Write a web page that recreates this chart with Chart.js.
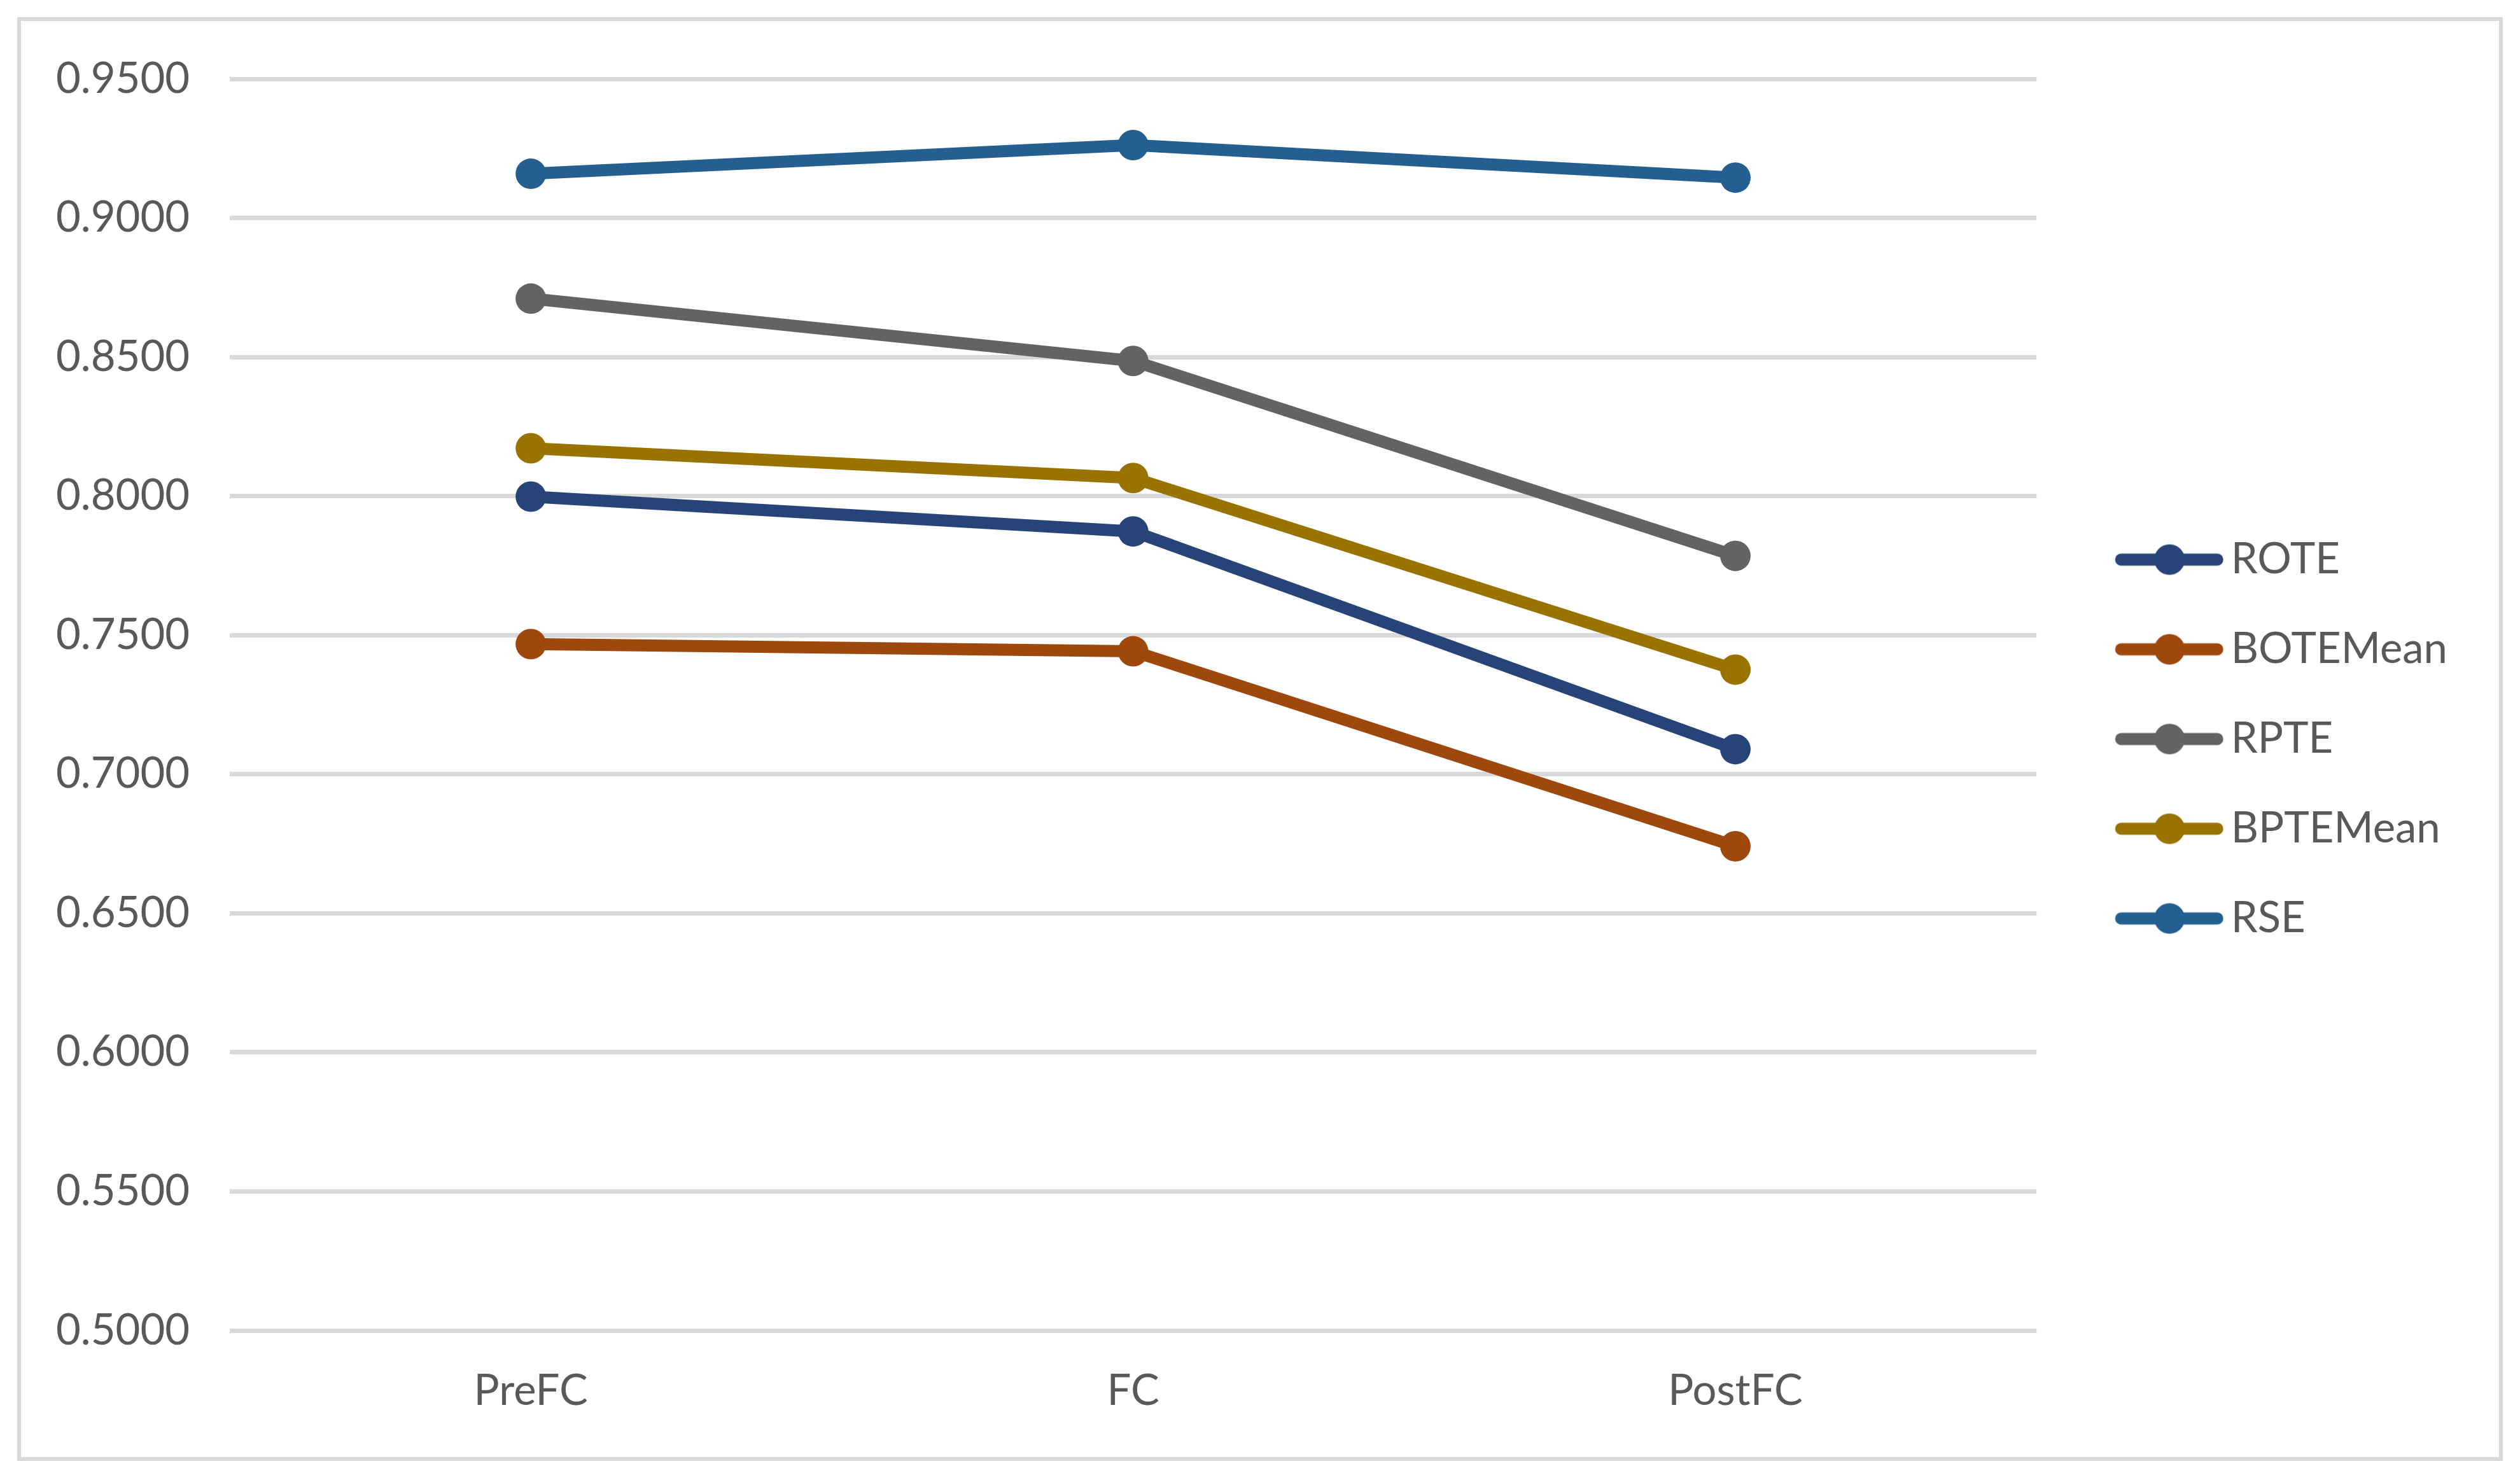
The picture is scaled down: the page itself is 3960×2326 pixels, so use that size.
<!DOCTYPE html>
<html>
<head>
<meta charset="utf-8">
<script src="https://cdn.jsdelivr.net/npm/chart.js@4.4.1/dist/chart.umd.min.js"></script>
<style>
  html, body { margin: 0; padding: 0; background: #fff; }
  #frame { position: absolute; left: 27px; top: 27px; width: 3906px; height: 2269px; border: 6px solid #d9d9d9; box-sizing: border-box; }
  #chart { display: block; }
</style>
</head>
<body>
<div id="frame"><canvas id="chart" width="3894" height="2257"></canvas></div>
<script>
// Values
const categories = ["PreFC", "FC", "PostFC"];
const seriesNames = ["ROTE", "BOTEMean", "RPTE", "BPTEMean", "RSE"];
const rote = [0.7998, 0.7873, 0.7090];
const boteMean = [0.7468, 0.7442, 0.6741];
const rpte = [0.8710, 0.8486, 0.7785];
const bpteMean = [0.8172, 0.8065, 0.7376];
const rse = [0.9159, 0.9262, 0.9145];
const seriesColors = ["#264478", "#9E480E", "#636363", "#997300", "#255E91"];

const textColor = "#595959";
const gridColor = "#d9d9d9";
const font = { family: "Lato, 'Open Sans', sans-serif", size: 67 };
const padTop = 91;

// legend swatch: short line with a dot, like the spreadsheet legend
function legendSwatch(color) {
  const c = document.createElement("canvas");
  c.width = 272; c.height = 52;
  const g = c.getContext("2d");
  g.strokeStyle = color; g.lineWidth = 19; g.lineCap = "round";
  g.beginPath(); g.moveTo(96, 26); g.lineTo(247, 26); g.stroke();
  g.fillStyle = color;
  g.beginPath(); g.arc(172, 26, 24, 0, Math.PI * 2); g.fill();
  return c;
}
const swatches = seriesColors.map(legendSwatch);

const values = [rote, boteMean, rpte, bpteMean, rse];
const datasets = values.map((data, i) => ({
  label: seriesNames[i],
  data,
  borderColor: seriesColors[i],
  backgroundColor: seriesColors[i],
  pointBackgroundColor: seriesColors[i],
  pointBorderWidth: 0,
  pointRadius: 24,
  pointHoverRadius: 24,
  borderWidth: 19,
  borderCapStyle: "round",
  borderJoinStyle: "round",
  tension: 0,
}));

new Chart(document.getElementById("chart"), {
  type: "line",
  data: { labels: categories, datasets },
  options: {
    responsive: false,
    animation: false,
    layout: { padding: { top: padTop, right: 71, bottom: 0, left: 55 } },
    plugins: {
      tooltip: { enabled: false },
      legend: {
        position: "right",
        align: "start",
        // empty title only pushes the entries down to the middle of the frame
        title: { display: true, text: "", font: { size: 12, lineHeight: 1 }, padding: { top: 813 - padTop - 74 - 12, bottom: 0 } },
        labels: {
          usePointStyle: true,
          pointStyleWidth: 198,
          padding: 74,
          color: textColor,
          font,
          generateLabels(chart) {
            const items = Chart.defaults.plugins.legend.labels.generateLabels(chart);
            items.forEach((it, i) => { it.pointStyle = swatches[i]; });
            return items;
          },
        },
      },
    },
    scales: {
      x: {
        offset: true,
        grid: { display: false },
        border: { display: false },
        ticks: { color: textColor, font, padding: 47 },
        afterFit(scale) { scale.height = 199; },
      },
      y: {
        min: 0.5,
        max: 0.95,
        grid: { color: gridColor, lineWidth: 7, drawTicks: false },
        border: { display: false },
        ticks: { stepSize: 0.05, color: textColor, font, padding: 0, crossAlign: "far", callback: (v) => Number(v).toFixed(4) },
        afterFit(scale) { scale.width = 273; },
      },
    },
  },
});
</script>
</body>
</html>
